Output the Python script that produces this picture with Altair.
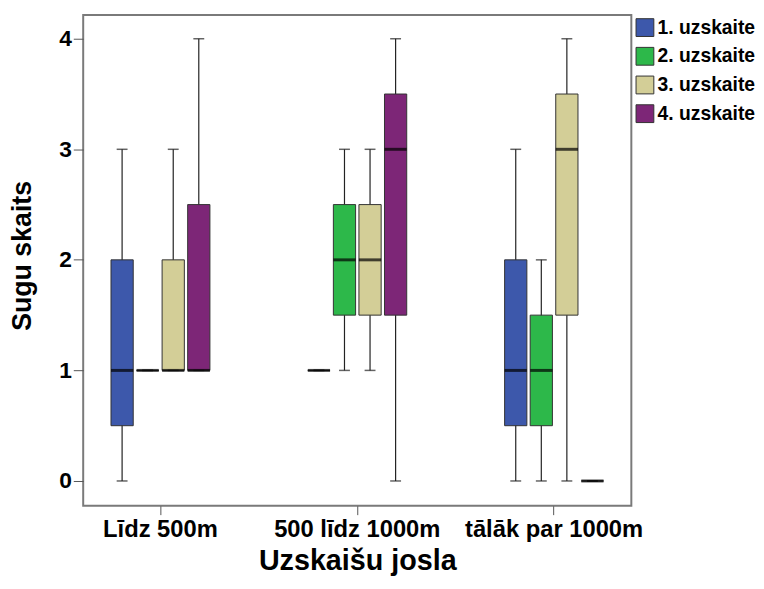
import altair as alt
import pandas as pd

groups = ["Līdz 500m", "500 līdz 1000m", "tālāk par 1000m"]
series = ["1. uzskaite", "2. uzskaite", "3. uzskaite", "4. uzskaite"]
colors = ["#3d58ab", "#2db84a", "#d3ce97", "#7d2677"]

mins = [[0, 1, 1, 1], [1, 1, 1, 0], [0, 0, 0, 0]]
q1s = [[0.5, 1, 1, 1], [1, 1.5, 1.5, 1.5], [0.5, 0.5, 1.5, 0]]
meds = [[1, 1, 1, 1], [1, 2, 2, 3], [1, 1, 3, 0]]
q3s = [[2, 1, 2, 2.5], [1, 2.5, 2.5, 3.5], [2, 1.5, 3.5, 0]]
maxs = [[3, 1, 3, 4], [1, 3, 3, 4], [3, 2, 4, 0]]

rows = []
for gi, g in enumerate(groups):
    for si, s in enumerate(series):
        rows.append(dict(group=g, series=s, lo=mins[gi][si], q1=q1s[gi][si],
                         med=meds[gi][si], q3=q3s[gi][si], hi=maxs[gi][si]))
df = pd.DataFrame(rows)

FONT = "Liberation Sans"

x_enc = alt.X("group:N", sort=groups,
              scale=alt.Scale(paddingInner=0.487, paddingOuter=0.136),
              axis=alt.Axis(title="Uzskaišu josla", labelAngle=0, labelLimit=400,
                            titleY=64, titleBaseline="alphabetic"))
xo_enc = alt.XOffset("series:N", sort=series,
                     scale=alt.Scale(paddingInner=0.13, paddingOuter=0.04))
y_scale = alt.Scale(domain=[-0.224, 4.215], nice=False, zero=False)

base = alt.Chart(df).encode(x=x_enc, xOffset=xo_enc)

whisk = base.mark_rule(color="#222222", strokeWidth=1.2).encode(
    y=alt.Y("lo:Q", scale=y_scale,
            axis=alt.Axis(title="Sugu skaits", values=[0, 1, 2, 3, 4], format="d",
                          titleX=-53, titleY=243, titleBaseline="alphabetic")),
    y2="hi:Q")

boxes = base.mark_bar(stroke="#333333", strokeWidth=1).encode(
    y=alt.Y("q1:Q", scale=y_scale),
    y2="q3:Q",
    color=alt.Color("series:N", sort=series,
                    scale=alt.Scale(domain=series, range=colors),
                    legend=alt.Legend(title=None, orient="none", legendX=558, legendY=3,
                                      symbolType="square", symbolSize=324,
                                      symbolStrokeColor="#333333", symbolStrokeWidth=1,
                                      symbolOpacity=1,
                                      labelFont=FONT, labelFontSize=19.5, labelFontWeight="bold",
                                      labelColor="#000000", rowPadding=6, labelOffset=3,
                                      labelLimit=300, padding=0)))

caps_lo = base.mark_tick(color="#222222", size=11, thickness=1.5).encode(
    y=alt.Y("lo:Q", scale=y_scale))
caps_hi = base.mark_tick(color="#222222", size=11, thickness=1.5).encode(
    y=alt.Y("hi:Q", scale=y_scale))
median = base.mark_tick(color="#000000", size=22.5, thickness=3).encode(
    y=alt.Y("med:Q", scale=y_scale))

chart = alt.layer(whisk, boxes, caps_lo, caps_hi, median).properties(
    width=554, height=496,
    autosize=alt.AutoSizeParams(type="none"),
    padding={"left": 76, "top": 4, "right": 126, "bottom": 71},
).configure_view(
    stroke="#7a7a7a", strokeWidth=2
).configure_axis(
    grid=False, domain=False, tickColor="#555555",
    labelFont=FONT, labelFontWeight="bold", labelColor="#000000",
    titleFont=FONT, titleFontWeight="bold", titleColor="#000000",
).configure_axisX(
    tickSize=9, labelPadding=3, labelFontSize=24, titleFontSize=29
).configure_axisY(
    tickSize=10, labelPadding=2, labelFontSize=23, titleFontSize=27
)

chart.save("out.html", embed_options={"renderer": "svg", "actions": False})
